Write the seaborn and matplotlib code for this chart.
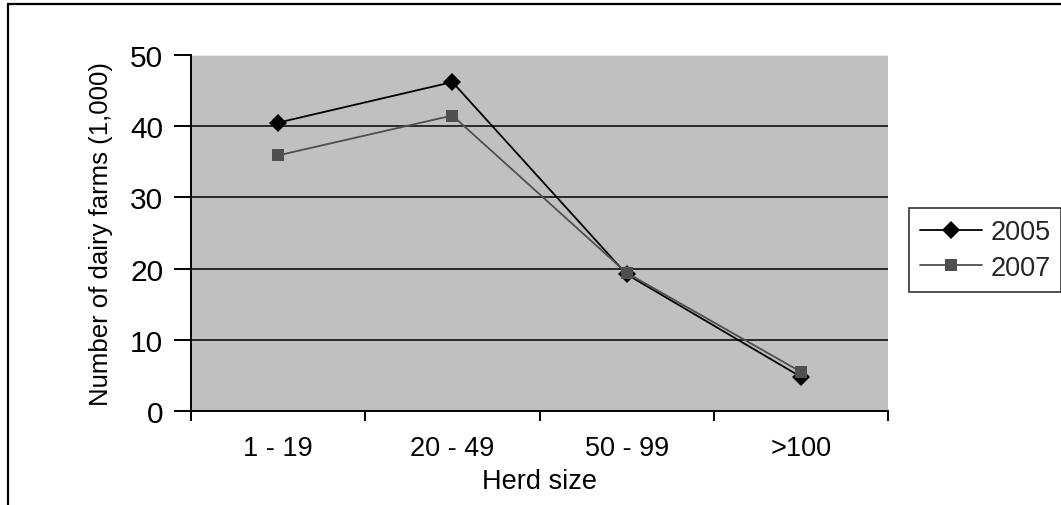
import matplotlib
matplotlib.use("Agg")
import matplotlib.pyplot as plt
from matplotlib.lines import Line2D
from matplotlib.ticker import FixedLocator, NullFormatter
import seaborn as sns
import pandas as pd

# Dairy farm counts (thousands) by herd size
herd_sizes = ["1 - 19", "20 - 49", "50 - 99", ">100"]
farms_2005 = [40.5, 46.2, 19.2, 4.8]
farms_2007 = [35.9, 41.5, 19.4, 5.5]
years = ["2005", "2007"]
y_ticks = [0, 10, 20, 30, 40, 50]

df = pd.DataFrame({
    "Herd size": herd_sizes * 2,
    "farms": farms_2005 + farms_2007,
    "year": [years[0]] * len(herd_sizes) + [years[1]] * len(herd_sizes),
})

sns.set_theme(style="white")
plt.rcParams["font.family"] = ["Liberation Sans", "DejaVu Sans"]

fig = plt.figure(figsize=(10.61, 5.06), dpi=100)
ax = fig.add_axes([191 / 1061, 1 - 412 / 506, 697 / 1061, 356 / 506])
ax.set_facecolor("#c0c0c0")

# horizontal gridlines
for v in y_ticks[1:-1]:
    ax.axhline(v, color="black", lw=1.1, zorder=1)
ax.axhline(50, color="#e6e6e6", lw=0.8, zorder=1)

sns.lineplot(
    data=df, x="Herd size", y="farms", hue="year", style="year",
    palette={"2005": "black", "2007": "#4f4f4f"},
    markers={"2005": "D", "2007": "s"}, dashes=False, sort=False,
    markersize=9, linewidth=1.3, markeredgewidth=0, ax=ax, zorder=3,
)

ax.set_xlim(-0.5, len(herd_sizes) - 0.5)
ax.set_ylim(0, 50)
ax.set_yticks(y_ticks)

# spines
for s in ["top", "right"]:
    ax.spines[s].set_visible(False)
for s in ["left", "bottom"]:
    ax.spines[s].set_color("black")
    ax.spines[s].set_linewidth(1.4)

# category boundaries carry the x tick marks
ax.xaxis.set_minor_locator(FixedLocator([i - 0.5 for i in range(len(herd_sizes) + 1)]))
ax.xaxis.set_minor_formatter(NullFormatter())
ax.tick_params(axis="x", which="major", length=0, pad=17, labelsize=19.5, colors="black")
ax.tick_params(axis="x", which="minor", length=7, width=1.4, direction="out",
               bottom=True, color="black")
ax.tick_params(axis="y", length=12, width=1.4, direction="out", left=True,
               pad=8, labelsize=21.5, colors="black")

ax.set_xlabel("Herd size", fontsize=19.5, color="black", labelpad=5)
ax.set_ylabel("Number of dairy farms (1,000)", fontsize=18.5, color="black", labelpad=12)

# legend to the right of the plot area
leg = ax.get_legend()
handles = leg.legend_handles
labels = [t.get_text() for t in leg.get_texts()]
leg.remove()
for h in handles:
    h.set_markersize(9)
    h.set_linewidth(1.3)
fig.legend(
    handles, labels, loc="center left",
    bbox_to_anchor=(909 / 1061, 1 - 251 / 506),
    fontsize=19.5, frameon=True, fancybox=False, edgecolor="black",
    handlelength=2.3, handletextpad=0.3, borderpad=0.4, labelspacing=0.35,
    borderaxespad=0,
).get_frame().set_linewidth(1.2)

# outer chart frame (top and left edges)
fig.add_artist(Line2D([8 / 1061, 1], [1 - 5 / 506, 1 - 5 / 506],
                      transform=fig.transFigure, color="black", lw=1.6))
fig.add_artist(Line2D([8 / 1061, 8 / 1061], [0, 1 - 5 / 506],
                      transform=fig.transFigure, color="black", lw=1.6))

fig.savefig("out.png", dpi=100)
